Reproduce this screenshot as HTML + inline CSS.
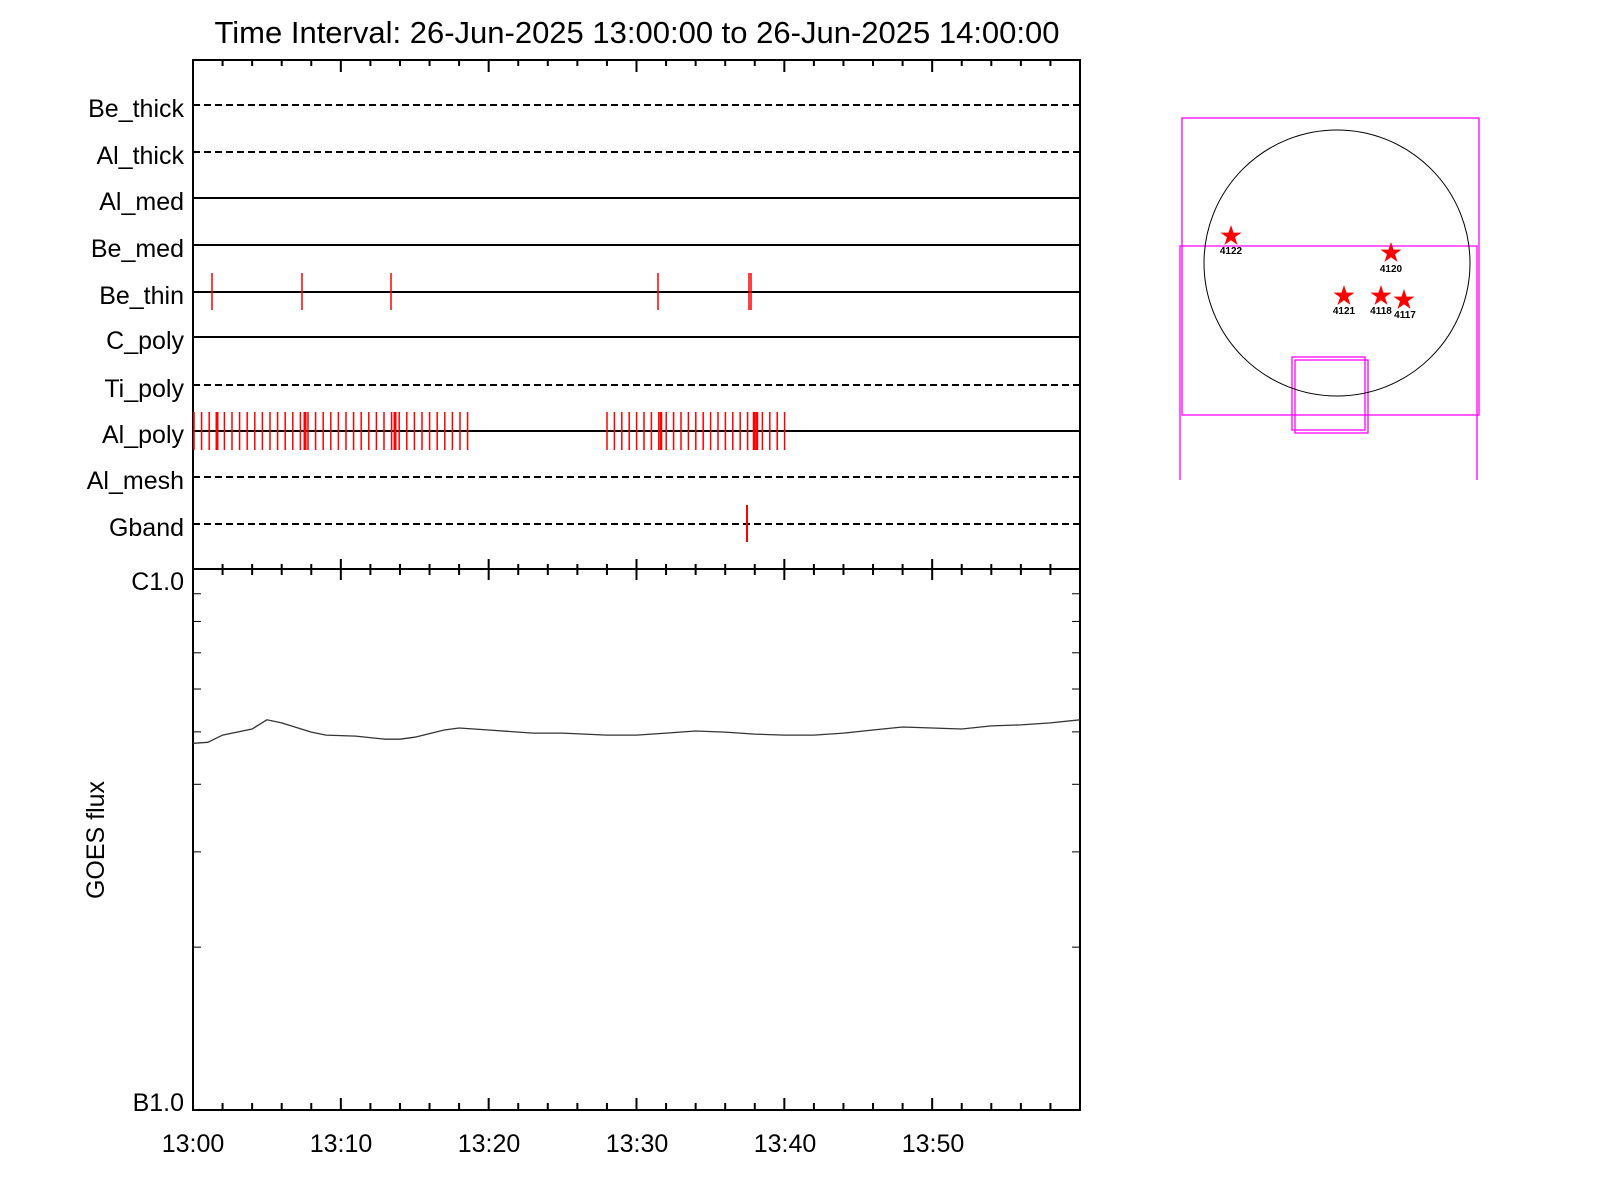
<!DOCTYPE html>
<html><head><meta charset="utf-8"><style>
html,body{margin:0;padding:0;background:#fff;}
svg{display:block;font-family:"Liberation Sans",sans-serif;}
</style></head><body>
<svg id="s" width="1600" height="1200" viewBox="0 0 1600 1200" xmlns="http://www.w3.org/2000/svg">
<rect width="1600" height="1200" fill="#fff"/>
<text x="637" y="43" font-size="31" text-anchor="middle">Time Interval: 26-Jun-2025 13:00:00 to 26-Jun-2025 14:00:00</text>
<g font-size="25" text-anchor="end">
<text x="184" y="117">Be_thick</text>
<text x="184" y="164">Al_thick</text>
<text x="184" y="210">Al_med</text>
<text x="184" y="257">Be_med</text>
<text x="184" y="304">Be_thin</text>
<text x="184" y="349">C_poly</text>
<text x="184" y="397">Ti_poly</text>
<text x="184" y="443">Al_poly</text>
<text x="184" y="489">Al_mesh</text>
<text x="184" y="536">Gband</text>
<text x="184" y="590">C1.0</text>
<text x="184" y="1111">B1.0</text>
</g>
<g font-size="25" text-anchor="middle">
<text x="193" y="1152">13:00</text>
<text x="341" y="1152">13:10</text>
<text x="489" y="1152">13:20</text>
<text x="637" y="1152">13:30</text>
<text x="785" y="1152">13:40</text>
<text x="933" y="1152">13:50</text>
</g>
<text transform="translate(104,840) rotate(-90)" font-size="25" text-anchor="middle">GOES flux</text>
<g id="lines" stroke="#000" stroke-width="2" fill="none">
<line x1="193" y1="105" x2="1080" y2="105" stroke-dasharray="7 4"/>
<line x1="193" y1="152" x2="1080" y2="152" stroke-dasharray="7 4"/>
<line x1="193" y1="198" x2="1080" y2="198"/>
<line x1="193" y1="245" x2="1080" y2="245"/>
<line x1="193" y1="292" x2="1080" y2="292"/>
<line x1="193" y1="337" x2="1080" y2="337"/>
<line x1="193" y1="385" x2="1080" y2="385" stroke-dasharray="7 4"/>
<line x1="193" y1="431" x2="1080" y2="431"/>
<line x1="193" y1="477" x2="1080" y2="477" stroke-dasharray="7 4"/>
<line x1="193" y1="524" x2="1080" y2="524" stroke-dasharray="7 4"/>
<rect x="193" y="60" width="887" height="509"/>
<rect x="193" y="569" width="887" height="541"/>
</g>
<g id="ticks" stroke="#000" stroke-width="2"></g>
<g id="red" stroke="#f00" stroke-width="1.5"></g>
<polyline id="goes" fill="none" stroke="#333" stroke-width="1.3" points=""/>
<g fill="none" stroke="#f0f" stroke-width="1.3">
<rect x="1182" y="118" width="297" height="297"/>
<polyline points="1180,480 1180,246 1477,246 1477,480"/>
<rect x="1292" y="357" width="73" height="73"/>
<rect x="1295" y="360" width="73" height="73"/>
</g>
<circle cx="1337" cy="263" r="133" fill="none" stroke="#000" stroke-width="1"/>
<g id="stars" fill="#f00"></g>
<g font-size="10" font-weight="bold" text-anchor="middle">
<text x="1231" y="254">4122</text>
<text x="1391" y="272">4120</text>
<text x="1344" y="314">4121</text>
<text x="1381" y="314">4118</text>
<text x="1405" y="318">4117</text>
</g>
</svg>
<script>
var NS="http://www.w3.org/2000/svg";
function L(g,x1,y1,x2,y2,w){var l=document.createElementNS(NS,"line");l.setAttribute("x1",x1);l.setAttribute("y1",y1);l.setAttribute("x2",x2);l.setAttribute("y2",y2);if(w)l.setAttribute("stroke-width",w);document.getElementById(g).appendChild(l);}
var x0=193,pm=887/60;
for(var m=0;m<=60;m+=2){var x=x0+m*pm,maj=m%10==0;
 L("ticks",x,60,x,maj?72:66);
 L("ticks",x,569,x,maj?559:564);L("ticks",x,569,x,maj?580:575);
 L("ticks",x,1110,x,maj?1098:1103);}
for(var k=2;k<=9;k++){var y=1110-541*Math.log10(k);L("ticks",193,y,201,y,1);L("ticks",1080,y,1072,y,1);}
[212,302,391,658,749,751].forEach(function(x){L("red",x,273,x,310);});
for(var x=194;x<=468;x+=7.6){L("red",x,412,x,450);}
[217,305,395].forEach(function(x){L("red",x,412,x,450,3);});
for(var x=607;x<=788;x+=7.4){L("red",x,412,x,450);}
[661,754,757].forEach(function(x){L("red",x,412,x,450,2.5);});
L("red",747,505,747,542,2);
var d=[[0,728],[1,727],[2,720],[4,714],[5,705],[6,708],[8,717],[9,720],[11,721],[13,724],[14,724],[15,722],[17,715],[18,713],[20,715],[23,718],[25,718],[28,720],[30,720],[32,718],[34,716],[36,717],[38,719],[40,720],[42,720],[44,718],[46,715],[48,712],[50,713],[52,714],[54,711],[56,710],[58,708],[60,705]];
document.getElementById("goes").setAttribute("points",d.map(function(p){return (x0+p[0]*pm).toFixed(1)+","+(p[1]*1.021).toFixed(1);}).join(" "));
[[1231,236],[1391,253],[1344,296],[1381,296],[1404,300]].forEach(function(c){var p=[];for(var i=0;i<10;i++){var r=i%2?4.2:11,a=-Math.PI/2+i*Math.PI/5;p.push((c[0]+r*Math.cos(a)).toFixed(1)+","+(c[1]+r*Math.sin(a)).toFixed(1));}var e=document.createElementNS(NS,"polygon");e.setAttribute("points",p.join(" "));document.getElementById("stars").appendChild(e);});
</script>
</body></html>
